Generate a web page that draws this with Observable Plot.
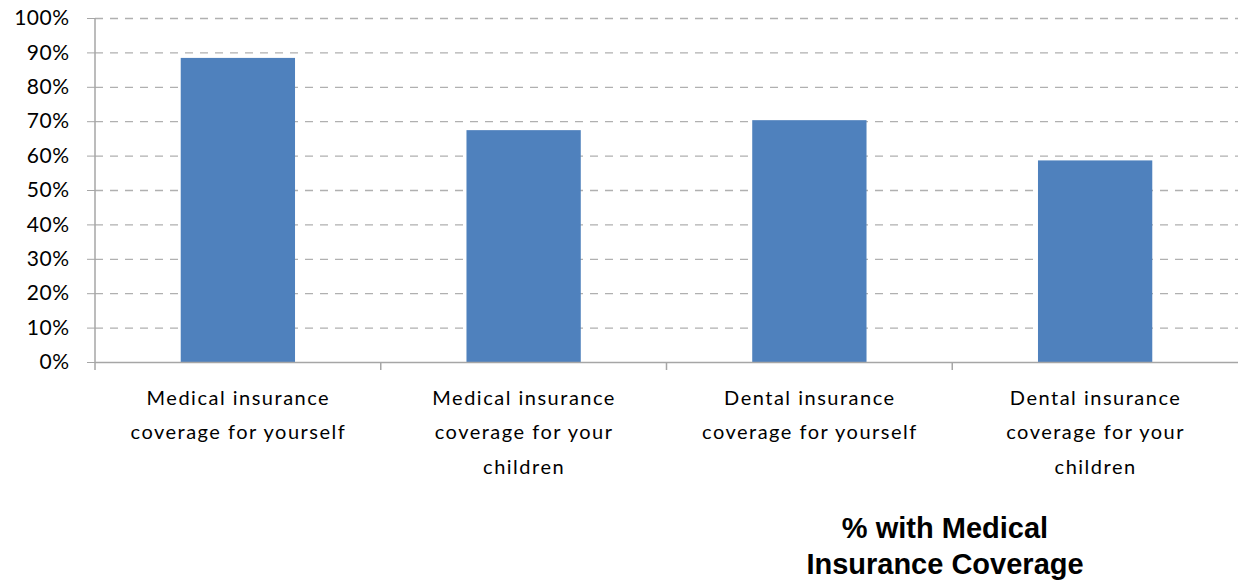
<!DOCTYPE html>
<html><head><meta charset="utf-8">
<script src="https://cdn.jsdelivr.net/npm/d3@7"></script>
<script src="https://cdn.jsdelivr.net/npm/@observablehq/plot@0.6"></script>
<style>
body{margin:0;background:#fff;font-family:Lato,sans-serif;}
#chart{position:relative;}
#title{position:absolute;left:745px;width:400px;top:510px;text-align:center;font:bold 29px/36px "Liberation Sans",Arial,sans-serif;color:#000;}
g[aria-label="x-axis tick label"]{letter-spacing:1.5px;}
g[aria-label="y-axis tick label"]{letter-spacing:0.5px;}
</style></head><body>
<div id="chart"></div>
<div id="title">% with Medical<br>Insurance Coverage</div>
<script>
const categories = [
  "Medical insurance coverage for yourself",
  "Medical insurance coverage for your children",
  "Dental insurance coverage for yourself",
  "Dental insurance coverage for your children"
];
const categoryLabels = [
  "Medical insurance\ncoverage for yourself",
  "Medical insurance\ncoverage for your\nchildren",
  "Dental insurance\ncoverage for yourself",
  "Dental insurance\ncoverage for your\nchildren"
];
const values = [0.884, 0.674, 0.703, 0.586];
const yTicks = [0, 0.1, 0.2, 0.3, 0.4, 0.5, 0.6, 0.7, 0.8, 0.9, 1.0];

const data = categories.map((c, i) => ({category: c, value: values[i]}));
const labelOf = new Map(categories.map((c, i) => [c, categoryLabels[i]]));
const axisGray = "#a6a6a6";

const plot = Plot.plot({
  width: 1238, height: 500,
  marginLeft: 95, marginRight: 0, marginTop: 18, marginBottom: 138,
  style: {fontFamily: "Lato, sans-serif", fontSize: "20px", color: "#000", background: "#fff"},
  x: {domain: categories, paddingInner: 0.6, paddingOuter: 0.3, round: false, axis: null},
  y: {domain: [0, 1], axis: null},
  marks: [
    Plot.gridY(yTicks.filter(d => d > 0), {stroke: "#b0b0b0", strokeOpacity: 1, strokeWidth: 1.3, strokeDasharray: "8,7"}),
    Plot.barY(data, {x: "category", y: "value", fill: "#4F81BD"}),
    Plot.ruleY([0], {stroke: axisGray, strokeWidth: 1.5}),
    Plot.axisY(yTicks, {tickFormat: d3.format(".0%"), tickSize: 8, tickPadding: 18, stroke: axisGray, fill: "#000", fontSize: 21, label: null}),
    Plot.axisX({tickSize: 0, tickPadding: 18, tickFormat: d => labelOf.get(d), lineHeight: 1.72, fontSize: 20, fill: "#000", label: null})
  ]
});

// category boundary ticks and y axis line, placed with the plot's own scales
const xs = plot.scale("x"), ys = plot.scale("y");
const step = xs.apply(categories[1]) - xs.apply(categories[0]);
const gap = step - xs.bandwidth;
const g = d3.select(plot).append("g").attr("stroke", axisGray).attr("stroke-width", 1.5);
categories.forEach((c, i) => {
  const bx = xs.apply(c) - gap / 2;
  g.append("line")
    .attr("x1", bx).attr("x2", bx)
    .attr("y1", i === 0 ? ys.apply(1) : ys.apply(0))
    .attr("y2", ys.apply(0) + 8);
});

document.getElementById("chart").appendChild(plot);
</script>
</body></html>
